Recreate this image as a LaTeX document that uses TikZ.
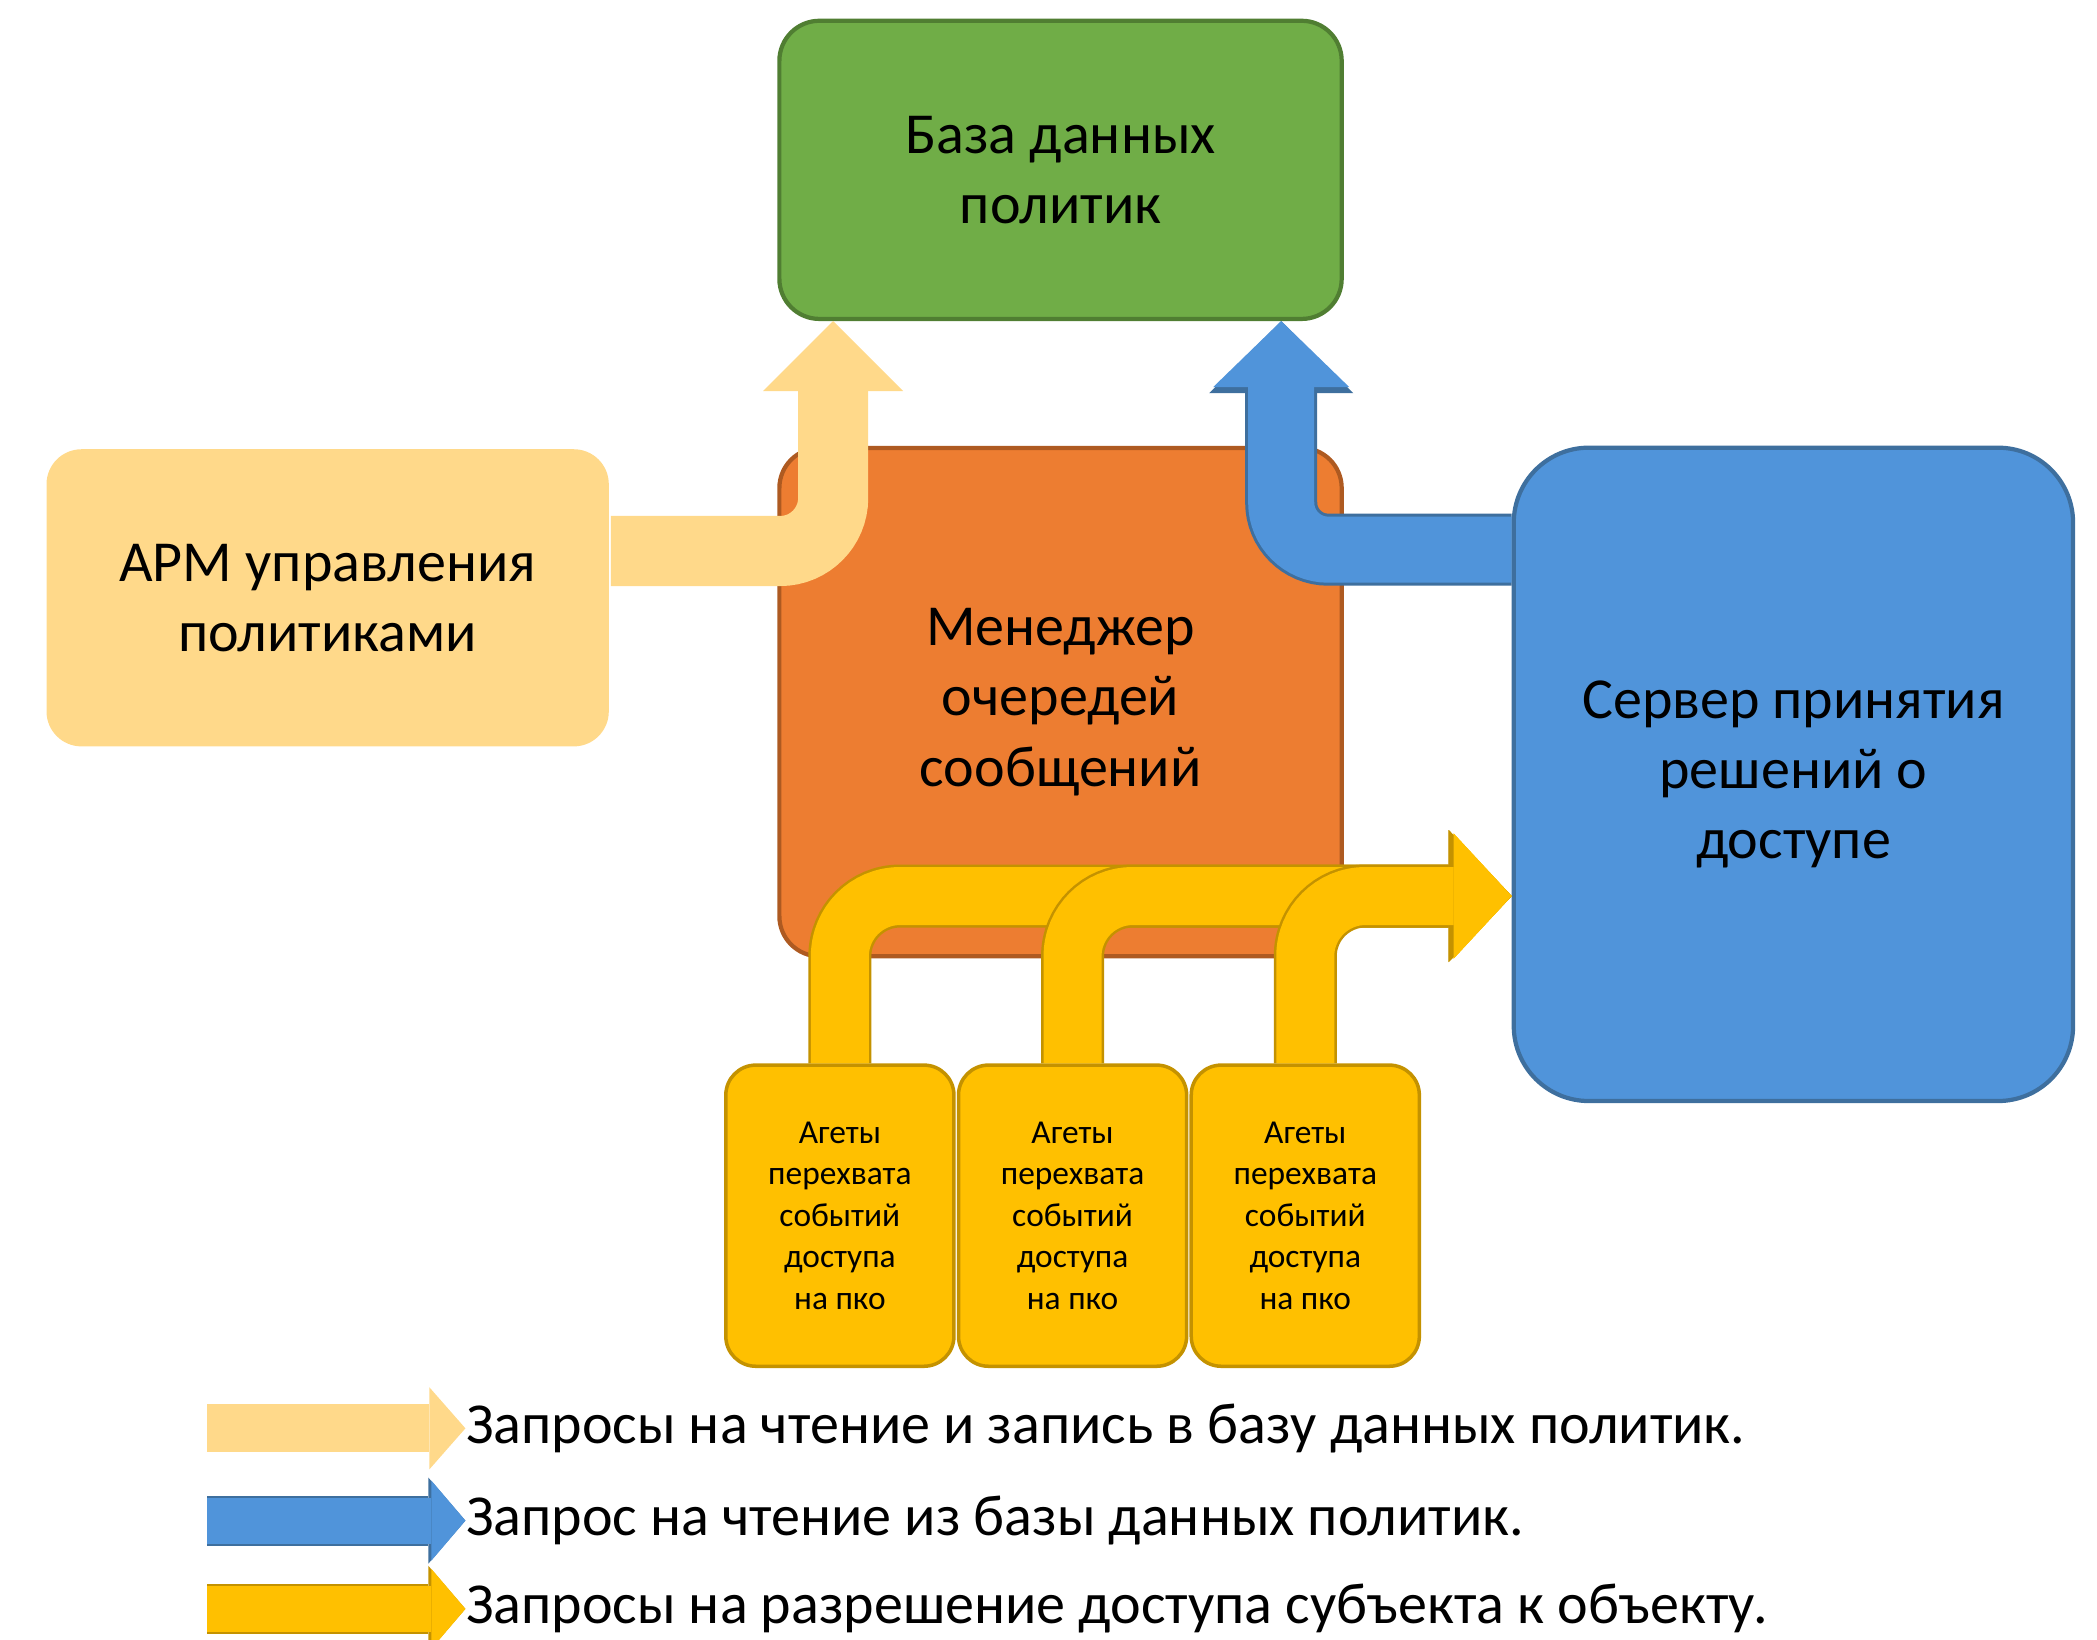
\documentclass[tikz,border=0pt]{standalone}
\usepackage{fontspec}
\setmainfont{Carlito}
\usetikzlibrary{arrows.meta}

\definecolor{dbfill}{HTML}{70AD47}
\definecolor{dbline}{HTML}{507E32}
\definecolor{qmfill}{HTML}{ED7D31}
\definecolor{qmline}{HTML}{AE5A21}
\definecolor{pdpfill}{HTML}{5094DA}
\definecolor{pdpline}{HTML}{3E6F9E}
\definecolor{armfill}{HTML}{FFD98A}
\definecolor{agfill}{HTML}{FFC000}
\definecolor{agline}{HTML}{C49200}

\tikzset{block/.style={rounded corners=0.4cm,minimum width=5.62cm,align=center,line width=1.2pt,font=\fontsize{16.5}{20}\selectfont},
  agent/.style={draw=agline,fill=agfill,rounded corners=0.3cm,minimum width=2.28cm,minimum height=3.01cm,align=center,line width=1pt,font=\fontsize{9.5}{11.8}\selectfont},
  legtext/.style={anchor=west,inner sep=0pt,font=\fontsize{16.5}{20}\selectfont},
  rwflow/.style={draw=armfill,line width=0.70cm,rounded corners=0.53cm,-{Triangle[width=1.40cm,length=0.70cm,line width=0pt]}},
  rdflow/.style={draw=pdpfill,line width=0.66cm,rounded corners=0.47cm,-{Triangle[width=1.36cm,length=0.66cm,line width=0pt]},
    preaction={draw=pdpline,line width=0.72cm,-{Triangle[width=1.44cm,length=0.72cm,line width=0pt]}}},
  acflow/.style={draw=agfill,line width=0.58cm,rounded corners=0.6cm,-{Triangle[width=1.25cm,length=0.58cm,line width=0pt]},
    preaction={draw=agline,line width=0.63cm,-{Triangle[width=1.32cm,length=0.63cm,line width=0pt]}}},
  rwkey/.style={draw=armfill,line width=0.48cm,-{Triangle[width=0.82cm,length=0.36cm,line width=0pt]}},
  rdkey/.style={draw=pdpfill,line width=0.46cm,-{Triangle[width=0.80cm,length=0.34cm,line width=0pt]},
    preaction={draw=pdpline,line width=0.50cm,-{Triangle[width=0.86cm,length=0.37cm,line width=0pt]}}},
  ackey/.style={draw=agfill,line width=0.46cm,-{Triangle[width=0.80cm,length=0.34cm,line width=0pt]},
    preaction={draw=agline,line width=0.50cm,-{Triangle[width=0.86cm,length=0.37cm,line width=0pt]}}}}

\begin{document}
\begin{tikzpicture}[x=0.013374cm,y=-0.013374cm]
  \useasboundingbox (0,0) rectangle (1568,1226);

  \node[block,draw=dbline,fill=dbfill,minimum height=2.98cm] (db) at (793,127) {База данных\\политик};
  \node[block,fill=armfill,rounded corners=0.35cm,minimum height=2.97cm] (arm) at (245,447) {АРМ управления\\политиками};
  \node[block,draw=qmline,fill=qmfill,minimum height=5.08cm] (qm) at (793,525) {Менеджер\\очередей\\сообщений};
  \node[block,draw=pdpline,fill=pdpfill,rounded corners=0.75cm,minimum width=5.59cm,minimum height=6.53cm] (pdp) at (1341,579) {Сервер принятия\\решений о\\доступе};
  \foreach \i/\x in {1/628,2/802,3/976}
    \node[agent] (ag\i) at (\x,909) {Агеты\\перехвата\\событий\\доступа\\на пко};

  \coordinate (rwbend) at (623,412);
  \coordinate (rdbend) at (958,411);
  \coordinate (acbend) at (0,670);
  \draw[rwflow] (arm.east |- rwbend) -| (db.south -| rwbend);
  \draw[rdflow] (pdp.west |- rdbend) -| (db.south -| rdbend);
  \foreach \i in {1,2,3}
    \draw[acflow] (ag\i.north) |- (pdp.west |- acbend);

  % legend
  \node[legtext] (leg1) at (348,1068) {Запросы на чтение и запись в базу данных политик.};
  \node[legtext] (leg2) at (348,1137) {Запрос на чтение из базы данных политик.};
  \node[legtext] (leg3) at (348,1203) {Запросы на разрешение доступа субъекта к объекту.};
  \coordinate (key1) at (155,1068);
  \coordinate (key2) at (155,1137);
  \coordinate (key3) at (155,1203);
  \draw[rwkey] (key1) -- (leg1.west);
  \draw[rdkey] (key2) -- (leg2.west);
  \draw[ackey] (key3) -- (leg3.west);
\end{tikzpicture}
\end{document}
